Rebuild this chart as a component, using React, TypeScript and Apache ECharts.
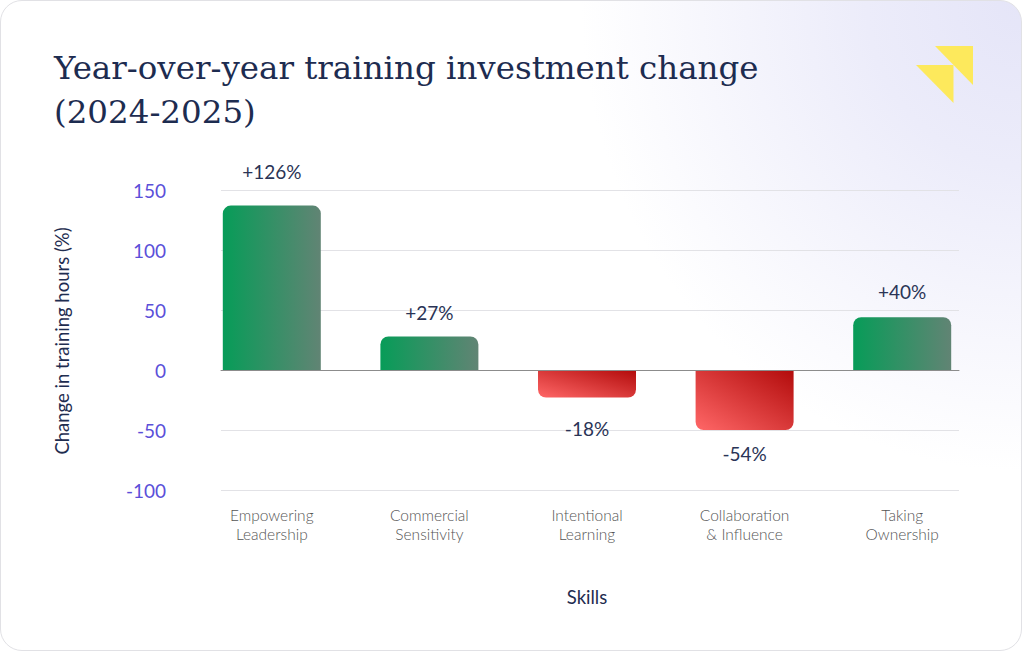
import React, { useEffect, useRef } from "react";
import * as echarts from "echarts";

const categories = [
  "Empowering\nLeadership",
  "Commercial\nSensitivity",
  "Intentional\nLearning",
  "Collaboration\n& Influence",
  "Taking\nOwnership",
];
const barValues = [137, 28, -23, -50, 44];
const labelTexts = ["+126%", "+27%", "-18%", "-54%", "+40%"];
const yMin = -100;
const yMax = 150;
const yStep = 50;

const titleText = "Year-over-year training investment change\n(2024-2025)";
const yAxisTitle = "Change in training hours (%)";
const xAxisTitle = "Skills";

// label distance tweaks (styling, not data)
const labelGap = [25, 14, 21, 14, 16];

export default function App() {
  const ref = useRef<HTMLDivElement>(null);

  useEffect(() => {
    document.body.style.margin = "0";
    if (!ref.current) return;
    const chart = echarts.init(ref.current, undefined, { renderer: "svg" });

    const green = new echarts.graphic.LinearGradient(0, 0, 1, 0, [
      { offset: 0, color: "#079c58" },
      { offset: 1, color: "#618474" },
    ]);
    const red = new echarts.graphic.LinearGradient(0, 1, 1, 0, [
      { offset: 0, color: "#ff6767" },
      { offset: 1, color: "#b20b0b" },
    ]);

    const data = barValues.map((v, i) => ({
      value: v,
      itemStyle: {
        color: v >= 0 ? green : red,
        borderRadius: v >= 0 ? [8, 8, 0, 0] : [0, 0, 8, 8],
      },
      label: {
        position: v >= 0 ? "top" : "bottom",
        distance: labelGap[i],
      },
    }));

    const option: any = {
      animation: false,
      title: {
        text: titleText,
        left: 54,
        top: 46,
        padding: 0,
        textStyle: {
          fontFamily: "DejaVu Serif",
          fontSize: 32.5,
          lineHeight: 44,
          fontWeight: "normal",
          color: "#1d2c50",
        },
      },
      grid: [
        { left: 193, right: 41, top: 190, bottom: 161 },
        { left: 221, right: 63, top: 190, bottom: 161 },
      ],
      xAxis: [
        {
          type: "category",
          gridIndex: 0,
          data: categories,
          axisLine: { show: false, onZero: false },
          axisTick: { show: false },
          splitLine: { show: false },
          axisLabel: {
            interval: 0,
            margin: 15,
            fontFamily: "Lato",
            fontWeight: 300,
            fontSize: 15.5,
            lineHeight: 19,
            color: "#555555",
          },
        },
        {
          type: "value",
          gridIndex: 1,
          min: 0,
          max: 1,
          axisLine: { show: true, onZero: true, lineStyle: { color: "#8c8c8c", width: 1 } },
          axisTick: { show: false },
          axisLabel: { show: false },
          splitLine: { show: false },
          z: 3,
        },
      ],
      yAxis: [
        { type: "value", gridIndex: 0, min: yMin, max: yMax, interval: yStep, show: false, splitLine: { show: false } },
        {
          type: "value",
          gridIndex: 1,
          min: yMin,
          max: yMax,
          interval: yStep,
          axisLine: { show: false },
          axisTick: { show: false },
          axisLabel: { margin: 55, color: "#5b4fd9", fontFamily: "Lato", fontSize: 19 },
          splitLine: { lineStyle: { color: "#e2e2e6", width: 1 } },
        },
      ],
      series: [
        {
          type: "bar",
          xAxisIndex: 0,
          yAxisIndex: 0,
          barWidth: 98,
          data,
          label: {
            show: true,
            formatter: (p: any) => labelTexts[p.dataIndex],
            fontFamily: "Lato",
            fontSize: 19,
            color: "#2a3456",
          },
          z: 2,
        },
      ],
      graphic: [
        {
          type: "text",
          x: 62,
          y: 341,
          rotation: Math.PI / 2,
          style: {
            text: yAxisTitle,
            fontFamily: "Lato",
            fontSize: 18.5,
            fill: "#1f2d50",
            align: "center",
            verticalAlign: "middle",
          },
        },
        {
          type: "text",
          x: 587,
          y: 597,
          style: {
            text: xAxisTitle,
            fontFamily: "Lato",
            fontSize: 18.5,
            fill: "#1f2d50",
            align: "center",
            verticalAlign: "middle",
          },
        },
        {
          type: "polygon",
          shape: { points: [[935, 46], [973, 46], [973, 85]] },
          style: { fill: "#fde95c" },
        },
        {
          type: "polygon",
          shape: { points: [[916, 65], [953.5, 65], [953.5, 103]] },
          style: { fill: "#fde95c" },
        },
      ],
    };

    chart.setOption(option);
    return () => chart.dispose();
  }, []);

  return (
    <div
      style={{
        position: "relative",
        width: 1022,
        height: 651,
        boxSizing: "border-box",
        border: "1px solid #e1e1e5",
        borderRadius: 22,
        overflow: "hidden",
        background:
          "radial-gradient(ellipse 440px 470px at 100% 0%, #e5e5f8 0%, #ececfa 35%, rgba(255,255,255,0) 100%), #ffffff",
      }}
    >
      <div ref={ref} style={{ position: "absolute", left: -1, top: -1, width: 1022, height: 651 }} />
    </div>
  );
}
